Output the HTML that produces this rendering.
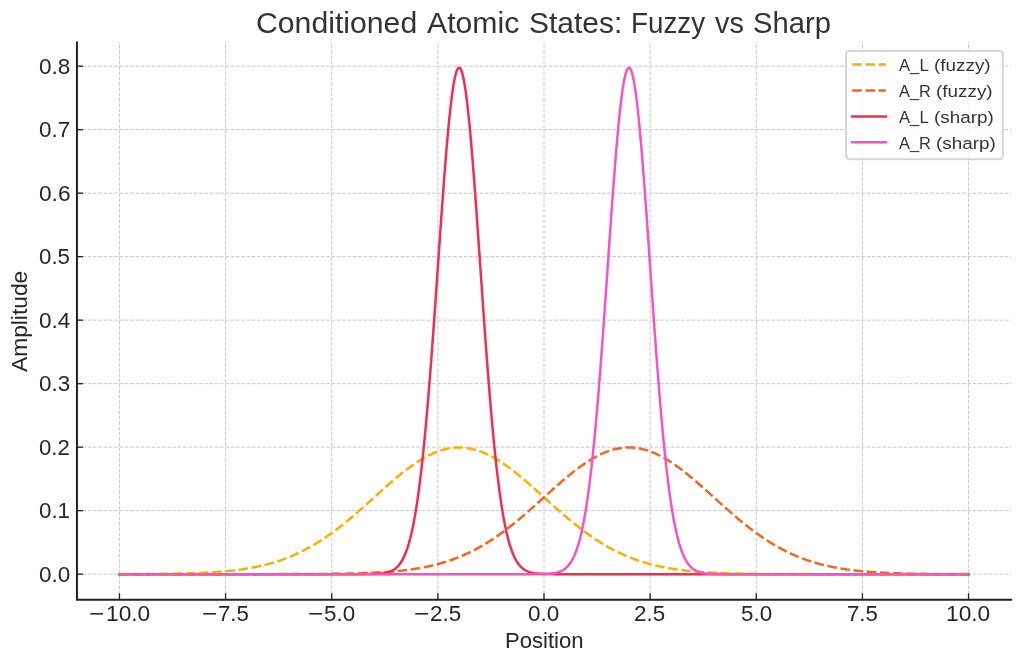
<!DOCTYPE html>
<html lang="en">
<head>
<meta charset="utf-8">
<title>Conditioned Atomic States: Fuzzy vs Sharp</title>
<style>
html,body{margin:0;padding:0;background:#ffffff;}
body{width:1023px;height:664px;overflow:hidden;position:relative;font-family:"Liberation Sans",sans-serif;}
.chart{position:absolute;left:0;top:0;width:1023px;height:664px;background:#ffffff;overflow:hidden;}
.plot{position:absolute;left:0;top:0;display:block;}
.labels{position:absolute;left:0;top:0;width:1023px;height:664px;will-change:transform;}
.t{position:absolute;left:0;width:1023px;height:0;white-space:pre;line-height:1;margin:0;padding:0;font-weight:normal;font-family:"Liberation Sans",sans-serif;}
.t span{position:absolute;top:0;white-space:pre;line-height:1;transform-origin:0 0;}
</style>
</head>
<body>
<div class="chart">
<svg class="plot" width="1023" height="664" viewBox="0 0 1023 664">
<g class="grid" stroke="#c8c8c8" stroke-width="1" stroke-dasharray="3.7 1.6" fill="none">
<path d="M119.45,599.8 V42.0"/>
<path d="M225.59,599.8 V42.0"/>
<path d="M331.73,599.8 V42.0"/>
<path d="M437.86,599.8 V42.0"/>
<path d="M544.00,599.8 V42.0"/>
<path d="M650.14,599.8 V42.0"/>
<path d="M756.27,599.8 V42.0"/>
<path d="M862.41,599.8 V42.0"/>
<path d="M968.55,599.8 V42.0"/>
<path d="M77.0,574.15 H1011.0"/>
<path d="M77.0,510.65 H1011.0"/>
<path d="M77.0,447.15 H1011.0"/>
<path d="M77.0,383.65 H1011.0"/>
<path d="M77.0,320.15 H1011.0"/>
<path d="M77.0,256.65 H1011.0"/>
<path d="M77.0,193.15 H1011.0"/>
<path d="M77.0,129.65 H1011.0"/>
<path d="M77.0,66.15 H1011.0"/>
</g>
<g class="curves" fill="none" stroke-width="2.5" stroke-linejoin="round">
<path d="M119.45,574.11 L120.87,574.10 L122.29,574.10 L123.70,574.10 L125.12,574.09 L126.54,574.09 L127.96,574.09 L129.37,574.08 L130.79,574.08 L132.21,574.07 L133.63,574.07 L135.04,574.06 L136.46,574.06 L137.88,574.05 L139.30,574.04 L140.71,574.04 L142.13,574.03 L143.55,574.02 L144.97,574.01 L146.38,574.01 L147.80,574.00 L149.22,573.99 L150.64,573.98 L152.05,573.97 L153.47,573.96 L154.89,573.94 L156.31,573.93 L157.72,573.92 L159.14,573.90 L160.56,573.89 L161.98,573.87 L163.39,573.86 L164.81,573.84 L166.23,573.82 L167.65,573.80 L169.06,573.78 L170.48,573.76 L171.90,573.73 L173.32,573.71 L174.73,573.69 L176.15,573.66 L177.57,573.63 L178.99,573.60 L180.40,573.57 L181.82,573.54 L183.24,573.50 L184.66,573.47 L186.07,573.43 L187.49,573.39 L188.91,573.35 L190.33,573.30 L191.74,573.26 L193.16,573.21 L194.58,573.16 L196.00,573.11 L197.41,573.05 L198.83,573.00 L200.25,572.93 L201.67,572.87 L203.08,572.81 L204.50,572.74 L205.92,572.66 L207.34,572.59 L208.75,572.51 L210.17,572.43 L211.59,572.34 L213.01,572.25 L214.42,572.16 L215.84,572.06 L217.26,571.96 L218.68,571.85 L220.09,571.74 L221.51,571.62 L222.93,571.50 L224.35,571.38 L225.76,571.25 L227.18,571.11 L228.60,570.97 L230.02,570.82 L231.43,570.67 L232.85,570.51 L234.27,570.35 L235.69,570.17 L237.10,570.00 L238.52,569.81 L239.94,569.62 L241.36,569.42 L242.78,569.21 L244.19,569.00 L245.61,568.78 L247.03,568.55 L248.45,568.31 L249.86,568.07 L251.28,567.81 L252.70,567.55 L254.12,567.28 L255.53,566.99 L256.95,566.70 L258.37,566.40 L259.79,566.09 L261.20,565.77 L262.62,565.44 L264.04,565.10 L265.46,564.74 L266.87,564.38 L268.29,564.01 L269.71,563.62 L271.13,563.22 L272.54,562.81 L273.96,562.39 L275.38,561.96 L276.80,561.51 L278.21,561.05 L279.63,560.58 L281.05,560.09 L282.47,559.59 L283.88,559.08 L285.30,558.55 L286.72,558.02 L288.14,557.46 L289.55,556.89 L290.97,556.31 L292.39,555.71 L293.81,555.10 L295.22,554.48 L296.64,553.83 L298.06,553.18 L299.48,552.51 L300.89,551.82 L302.31,551.12 L303.73,550.40 L305.15,549.67 L306.56,548.92 L307.98,548.15 L309.40,547.37 L310.82,546.58 L312.23,545.76 L313.65,544.94 L315.07,544.09 L316.49,543.24 L317.90,542.36 L319.32,541.47 L320.74,540.56 L322.16,539.64 L323.57,538.71 L324.99,537.75 L326.41,536.79 L327.83,535.81 L329.24,534.81 L330.66,533.80 L332.08,532.77 L333.50,531.73 L334.91,530.68 L336.33,529.61 L337.75,528.53 L339.17,527.43 L340.58,526.32 L342.00,525.20 L343.42,524.07 L344.84,522.92 L346.25,521.77 L347.67,520.60 L349.09,519.42 L350.51,518.23 L351.92,517.03 L353.34,515.83 L354.76,514.61 L356.18,513.38 L357.59,512.15 L359.01,510.91 L360.43,509.66 L361.85,508.41 L363.27,507.15 L364.68,505.88 L366.10,504.61 L367.52,503.34 L368.94,502.06 L370.35,500.78 L371.77,499.50 L373.19,498.22 L374.61,496.94 L376.02,495.66 L377.44,494.38 L378.86,493.10 L380.28,491.82 L381.69,490.54 L383.11,489.27 L384.53,488.01 L385.95,486.75 L387.36,485.50 L388.78,484.25 L390.20,483.01 L391.62,481.78 L393.03,480.56 L394.45,479.35 L395.87,478.15 L397.29,476.96 L398.70,475.79 L400.12,474.63 L401.54,473.48 L402.96,472.35 L404.37,471.23 L405.79,470.14 L407.21,469.05 L408.63,467.99 L410.04,466.95 L411.46,465.92 L412.88,464.92 L414.30,463.94 L415.71,462.98 L417.13,462.04 L418.55,461.13 L419.97,460.24 L421.38,459.38 L422.80,458.54 L424.22,457.73 L425.64,456.94 L427.05,456.19 L428.47,455.46 L429.89,454.76 L431.31,454.09 L432.72,453.45 L434.14,452.84 L435.56,452.26 L436.98,451.71 L438.39,451.19 L439.81,450.71 L441.23,450.26 L442.65,449.84 L444.06,449.45 L445.48,449.10 L446.90,448.78 L448.32,448.50 L449.73,448.25 L451.15,448.04 L452.57,447.86 L453.99,447.71 L455.40,447.61 L456.82,447.53 L458.24,447.49 L459.66,447.49 L461.07,447.52 L462.49,447.59 L463.91,447.69 L465.33,447.83 L466.74,448.00 L468.16,448.21 L469.58,448.45 L471.00,448.73 L472.41,449.04 L473.83,449.38 L475.25,449.76 L476.67,450.17 L478.08,450.62 L479.50,451.09 L480.92,451.60 L482.34,452.15 L483.76,452.72 L485.17,453.32 L486.59,453.96 L488.01,454.62 L489.43,455.32 L490.84,456.04 L492.26,456.79 L493.68,457.57 L495.10,458.38 L496.51,459.21 L497.93,460.07 L499.35,460.95 L500.77,461.86 L502.18,462.79 L503.60,463.75 L505.02,464.72 L506.44,465.72 L507.85,466.74 L509.27,467.78 L510.69,468.84 L512.11,469.92 L513.52,471.01 L514.94,472.13 L516.36,473.25 L517.78,474.40 L519.19,475.56 L520.61,476.73 L522.03,477.91 L523.45,479.11 L524.86,480.32 L526.28,481.54 L527.70,482.76 L529.12,484.00 L530.53,485.25 L531.95,486.50 L533.37,487.76 L534.79,489.02 L536.20,490.29 L537.62,491.56 L539.04,492.84 L540.46,494.12 L541.87,495.40 L543.29,496.68 L544.71,497.97 L546.13,499.25 L547.54,500.53 L548.96,501.81 L550.38,503.09 L551.80,504.36 L553.21,505.63 L554.63,506.89 L556.05,508.16 L557.47,509.41 L558.88,510.66 L560.30,511.90 L561.72,513.14 L563.14,514.36 L564.55,515.58 L565.97,516.79 L567.39,517.99 L568.81,519.18 L570.22,520.36 L571.64,521.53 L573.06,522.69 L574.48,523.84 L575.89,524.98 L577.31,526.10 L578.73,527.21 L580.15,528.31 L581.56,529.39 L582.98,530.46 L584.40,531.52 L585.82,532.56 L587.23,533.59 L588.65,534.61 L590.07,535.61 L591.49,536.59 L592.90,537.56 L594.32,538.52 L595.74,539.46 L597.16,540.38 L598.57,541.29 L599.99,542.18 L601.41,543.06 L602.83,543.92 L604.24,544.77 L605.66,545.60 L607.08,546.42 L608.50,547.21 L609.92,548.00 L611.33,548.77 L612.75,549.52 L614.17,550.25 L615.59,550.97 L617.00,551.68 L618.42,552.37 L619.84,553.04 L621.26,553.70 L622.67,554.35 L624.09,554.98 L625.51,555.59 L626.93,556.19 L628.34,556.78 L629.76,557.35 L631.18,557.91 L632.60,558.45 L634.01,558.98 L635.43,559.49 L636.85,559.99 L638.27,560.48 L639.68,560.96 L641.10,561.42 L642.52,561.87 L643.94,562.30 L645.35,562.73 L646.77,563.14 L648.19,563.54 L649.61,563.93 L651.02,564.31 L652.44,564.67 L653.86,565.03 L655.28,565.37 L656.69,565.70 L658.11,566.03 L659.53,566.34 L660.95,566.64 L662.36,566.94 L663.78,567.22 L665.20,567.49 L666.62,567.76 L668.03,568.02 L669.45,568.26 L670.87,568.50 L672.29,568.73 L673.70,568.96 L675.12,569.17 L676.54,569.38 L677.96,569.58 L679.37,569.77 L680.79,569.96 L682.21,570.14 L683.63,570.31 L685.04,570.48 L686.46,570.64 L687.88,570.79 L689.30,570.94 L690.71,571.08 L692.13,571.22 L693.55,571.35 L694.97,571.48 L696.38,571.60 L697.80,571.72 L699.22,571.83 L700.64,571.93 L702.05,572.04 L703.47,572.14 L704.89,572.23 L706.31,572.32 L707.72,572.41 L709.14,572.49 L710.56,572.57 L711.98,572.65 L713.39,572.72 L714.81,572.79 L716.23,572.86 L717.65,572.92 L719.06,572.98 L720.48,573.04 L721.90,573.10 L723.32,573.15 L724.73,573.20 L726.15,573.25 L727.57,573.30 L728.99,573.34 L730.41,573.38 L731.82,573.42 L733.24,573.46 L734.66,573.50 L736.08,573.53 L737.49,573.56 L738.91,573.59 L740.33,573.62 L741.75,573.65 L743.16,573.68 L744.58,573.71 L746.00,573.73 L747.42,573.75 L748.83,573.77 L750.25,573.80 L751.67,573.82 L753.09,573.83 L754.50,573.85 L755.92,573.87 L757.34,573.88 L758.76,573.90 L760.17,573.91 L761.59,573.93 L763.01,573.94 L764.43,573.95 L765.84,573.96 L767.26,573.98 L768.68,573.99 L770.10,574.00 L771.51,574.00 L772.93,574.01 L774.35,574.02 L775.77,574.03 L777.18,574.04 L778.60,574.04 L780.02,574.05 L781.44,574.06 L782.85,574.06 L784.27,574.07 L785.69,574.07 L787.11,574.08 L788.52,574.08 L789.94,574.09 L791.36,574.09 L792.78,574.09 L794.19,574.10 L795.61,574.10 L797.03,574.10 L798.45,574.11 L799.86,574.11 L801.28,574.11 L802.70,574.11 L804.12,574.12 L805.53,574.12 L806.95,574.12 L808.37,574.12 L809.79,574.12 L811.20,574.13 L812.62,574.13 L814.04,574.13 L815.46,574.13 L816.87,574.13 L818.29,574.13 L819.71,574.13 L821.13,574.14 L822.54,574.14 L823.96,574.14 L825.38,574.14 L826.80,574.14 L828.21,574.14 L829.63,574.14 L831.05,574.14 L832.47,574.14 L833.88,574.14 L835.30,574.14 L836.72,574.14 L838.14,574.14 L839.55,574.14 L840.97,574.14 L842.39,574.15 L843.81,574.15 L845.22,574.15 L846.64,574.15 L848.06,574.15 L849.48,574.15 L850.90,574.15 L852.31,574.15 L853.73,574.15 L855.15,574.15 L856.57,574.15 L857.98,574.15 L859.40,574.15 L860.82,574.15 L862.24,574.15 L863.65,574.15 L865.07,574.15 L866.49,574.15 L867.91,574.15 L869.32,574.15 L870.74,574.15 L872.16,574.15 L873.58,574.15 L874.99,574.15 L876.41,574.15 L877.83,574.15 L879.25,574.15 L880.66,574.15 L882.08,574.15 L883.50,574.15 L884.92,574.15 L886.33,574.15 L887.75,574.15 L889.17,574.15 L890.59,574.15 L892.00,574.15 L893.42,574.15 L894.84,574.15 L896.26,574.15 L897.67,574.15 L899.09,574.15 L900.51,574.15 L901.93,574.15 L903.34,574.15 L904.76,574.15 L906.18,574.15 L907.60,574.15 L909.01,574.15 L910.43,574.15 L911.85,574.15 L913.27,574.15 L914.68,574.15 L916.10,574.15 L917.52,574.15 L918.94,574.15 L920.35,574.15 L921.77,574.15 L923.19,574.15 L924.61,574.15 L926.02,574.15 L927.44,574.15 L928.86,574.15 L930.28,574.15 L931.69,574.15 L933.11,574.15 L934.53,574.15 L935.95,574.15 L937.36,574.15 L938.78,574.15 L940.20,574.15 L941.62,574.15 L943.03,574.15 L944.45,574.15 L945.87,574.15 L947.29,574.15 L948.70,574.15 L950.12,574.15 L951.54,574.15 L952.96,574.15 L954.37,574.15 L955.79,574.15 L957.21,574.15 L958.63,574.15 L960.04,574.15 L961.46,574.15 L962.88,574.15 L964.30,574.15 L965.71,574.15 L967.13,574.15 L968.55,574.15" stroke="#FFAE00" stroke-dasharray="9.6 3.65"/>
<path d="M119.45,574.15 L120.87,574.15 L122.29,574.15 L123.70,574.15 L125.12,574.15 L126.54,574.15 L127.96,574.15 L129.37,574.15 L130.79,574.15 L132.21,574.15 L133.63,574.15 L135.04,574.15 L136.46,574.15 L137.88,574.15 L139.30,574.15 L140.71,574.15 L142.13,574.15 L143.55,574.15 L144.97,574.15 L146.38,574.15 L147.80,574.15 L149.22,574.15 L150.64,574.15 L152.05,574.15 L153.47,574.15 L154.89,574.15 L156.31,574.15 L157.72,574.15 L159.14,574.15 L160.56,574.15 L161.98,574.15 L163.39,574.15 L164.81,574.15 L166.23,574.15 L167.65,574.15 L169.06,574.15 L170.48,574.15 L171.90,574.15 L173.32,574.15 L174.73,574.15 L176.15,574.15 L177.57,574.15 L178.99,574.15 L180.40,574.15 L181.82,574.15 L183.24,574.15 L184.66,574.15 L186.07,574.15 L187.49,574.15 L188.91,574.15 L190.33,574.15 L191.74,574.15 L193.16,574.15 L194.58,574.15 L196.00,574.15 L197.41,574.15 L198.83,574.15 L200.25,574.15 L201.67,574.15 L203.08,574.15 L204.50,574.15 L205.92,574.15 L207.34,574.15 L208.75,574.15 L210.17,574.15 L211.59,574.15 L213.01,574.15 L214.42,574.15 L215.84,574.15 L217.26,574.15 L218.68,574.15 L220.09,574.15 L221.51,574.15 L222.93,574.15 L224.35,574.15 L225.76,574.15 L227.18,574.15 L228.60,574.15 L230.02,574.15 L231.43,574.15 L232.85,574.15 L234.27,574.15 L235.69,574.15 L237.10,574.15 L238.52,574.15 L239.94,574.15 L241.36,574.15 L242.78,574.15 L244.19,574.15 L245.61,574.15 L247.03,574.14 L248.45,574.14 L249.86,574.14 L251.28,574.14 L252.70,574.14 L254.12,574.14 L255.53,574.14 L256.95,574.14 L258.37,574.14 L259.79,574.14 L261.20,574.14 L262.62,574.14 L264.04,574.14 L265.46,574.14 L266.87,574.14 L268.29,574.13 L269.71,574.13 L271.13,574.13 L272.54,574.13 L273.96,574.13 L275.38,574.13 L276.80,574.13 L278.21,574.12 L279.63,574.12 L281.05,574.12 L282.47,574.12 L283.88,574.12 L285.30,574.11 L286.72,574.11 L288.14,574.11 L289.55,574.11 L290.97,574.10 L292.39,574.10 L293.81,574.10 L295.22,574.09 L296.64,574.09 L298.06,574.09 L299.48,574.08 L300.89,574.08 L302.31,574.07 L303.73,574.07 L305.15,574.06 L306.56,574.06 L307.98,574.05 L309.40,574.04 L310.82,574.04 L312.23,574.03 L313.65,574.02 L315.07,574.01 L316.49,574.00 L317.90,574.00 L319.32,573.99 L320.74,573.98 L322.16,573.96 L323.57,573.95 L324.99,573.94 L326.41,573.93 L327.83,573.91 L329.24,573.90 L330.66,573.88 L332.08,573.87 L333.50,573.85 L334.91,573.83 L336.33,573.82 L337.75,573.80 L339.17,573.77 L340.58,573.75 L342.00,573.73 L343.42,573.71 L344.84,573.68 L346.25,573.65 L347.67,573.62 L349.09,573.59 L350.51,573.56 L351.92,573.53 L353.34,573.50 L354.76,573.46 L356.18,573.42 L357.59,573.38 L359.01,573.34 L360.43,573.30 L361.85,573.25 L363.27,573.20 L364.68,573.15 L366.10,573.10 L367.52,573.04 L368.94,572.98 L370.35,572.92 L371.77,572.86 L373.19,572.79 L374.61,572.72 L376.02,572.65 L377.44,572.57 L378.86,572.49 L380.28,572.41 L381.69,572.32 L383.11,572.23 L384.53,572.14 L385.95,572.04 L387.36,571.93 L388.78,571.83 L390.20,571.72 L391.62,571.60 L393.03,571.48 L394.45,571.35 L395.87,571.22 L397.29,571.08 L398.70,570.94 L400.12,570.79 L401.54,570.64 L402.96,570.48 L404.37,570.31 L405.79,570.14 L407.21,569.96 L408.63,569.77 L410.04,569.58 L411.46,569.38 L412.88,569.17 L414.30,568.96 L415.71,568.73 L417.13,568.50 L418.55,568.26 L419.97,568.02 L421.38,567.76 L422.80,567.49 L424.22,567.22 L425.64,566.94 L427.05,566.64 L428.47,566.34 L429.89,566.03 L431.31,565.70 L432.72,565.37 L434.14,565.03 L435.56,564.67 L436.98,564.31 L438.39,563.93 L439.81,563.54 L441.23,563.14 L442.65,562.73 L444.06,562.30 L445.48,561.87 L446.90,561.42 L448.32,560.96 L449.73,560.48 L451.15,559.99 L452.57,559.49 L453.99,558.98 L455.40,558.45 L456.82,557.91 L458.24,557.35 L459.66,556.78 L461.07,556.19 L462.49,555.59 L463.91,554.98 L465.33,554.35 L466.74,553.70 L468.16,553.04 L469.58,552.37 L471.00,551.68 L472.41,550.97 L473.83,550.25 L475.25,549.52 L476.67,548.77 L478.08,548.00 L479.50,547.21 L480.92,546.42 L482.34,545.60 L483.76,544.77 L485.17,543.92 L486.59,543.06 L488.01,542.18 L489.43,541.29 L490.84,540.38 L492.26,539.46 L493.68,538.52 L495.10,537.56 L496.51,536.59 L497.93,535.61 L499.35,534.61 L500.77,533.59 L502.18,532.56 L503.60,531.52 L505.02,530.46 L506.44,529.39 L507.85,528.31 L509.27,527.21 L510.69,526.10 L512.11,524.98 L513.52,523.84 L514.94,522.69 L516.36,521.53 L517.78,520.36 L519.19,519.18 L520.61,517.99 L522.03,516.79 L523.45,515.58 L524.86,514.36 L526.28,513.14 L527.70,511.90 L529.12,510.66 L530.53,509.41 L531.95,508.16 L533.37,506.89 L534.79,505.63 L536.20,504.36 L537.62,503.09 L539.04,501.81 L540.46,500.53 L541.87,499.25 L543.29,497.97 L544.71,496.68 L546.13,495.40 L547.54,494.12 L548.96,492.84 L550.38,491.56 L551.80,490.29 L553.21,489.02 L554.63,487.76 L556.05,486.50 L557.47,485.25 L558.88,484.00 L560.30,482.76 L561.72,481.54 L563.14,480.32 L564.55,479.11 L565.97,477.91 L567.39,476.73 L568.81,475.56 L570.22,474.40 L571.64,473.25 L573.06,472.13 L574.48,471.01 L575.89,469.92 L577.31,468.84 L578.73,467.78 L580.15,466.74 L581.56,465.72 L582.98,464.72 L584.40,463.75 L585.82,462.79 L587.23,461.86 L588.65,460.95 L590.07,460.07 L591.49,459.21 L592.90,458.38 L594.32,457.57 L595.74,456.79 L597.16,456.04 L598.57,455.32 L599.99,454.62 L601.41,453.96 L602.83,453.32 L604.24,452.72 L605.66,452.15 L607.08,451.60 L608.50,451.09 L609.92,450.62 L611.33,450.17 L612.75,449.76 L614.17,449.38 L615.59,449.04 L617.00,448.73 L618.42,448.45 L619.84,448.21 L621.26,448.00 L622.67,447.83 L624.09,447.69 L625.51,447.59 L626.93,447.52 L628.34,447.49 L629.76,447.49 L631.18,447.53 L632.60,447.61 L634.01,447.71 L635.43,447.86 L636.85,448.04 L638.27,448.25 L639.68,448.50 L641.10,448.78 L642.52,449.10 L643.94,449.45 L645.35,449.84 L646.77,450.26 L648.19,450.71 L649.61,451.19 L651.02,451.71 L652.44,452.26 L653.86,452.84 L655.28,453.45 L656.69,454.09 L658.11,454.76 L659.53,455.46 L660.95,456.19 L662.36,456.94 L663.78,457.73 L665.20,458.54 L666.62,459.38 L668.03,460.24 L669.45,461.13 L670.87,462.04 L672.29,462.98 L673.70,463.94 L675.12,464.92 L676.54,465.92 L677.96,466.95 L679.37,467.99 L680.79,469.05 L682.21,470.14 L683.63,471.23 L685.04,472.35 L686.46,473.48 L687.88,474.63 L689.30,475.79 L690.71,476.96 L692.13,478.15 L693.55,479.35 L694.97,480.56 L696.38,481.78 L697.80,483.01 L699.22,484.25 L700.64,485.50 L702.05,486.75 L703.47,488.01 L704.89,489.27 L706.31,490.54 L707.72,491.82 L709.14,493.10 L710.56,494.38 L711.98,495.66 L713.39,496.94 L714.81,498.22 L716.23,499.50 L717.65,500.78 L719.06,502.06 L720.48,503.34 L721.90,504.61 L723.32,505.88 L724.73,507.15 L726.15,508.41 L727.57,509.66 L728.99,510.91 L730.41,512.15 L731.82,513.38 L733.24,514.61 L734.66,515.83 L736.08,517.03 L737.49,518.23 L738.91,519.42 L740.33,520.60 L741.75,521.77 L743.16,522.92 L744.58,524.07 L746.00,525.20 L747.42,526.32 L748.83,527.43 L750.25,528.53 L751.67,529.61 L753.09,530.68 L754.50,531.73 L755.92,532.77 L757.34,533.80 L758.76,534.81 L760.17,535.81 L761.59,536.79 L763.01,537.75 L764.43,538.71 L765.84,539.64 L767.26,540.56 L768.68,541.47 L770.10,542.36 L771.51,543.24 L772.93,544.09 L774.35,544.94 L775.77,545.76 L777.18,546.58 L778.60,547.37 L780.02,548.15 L781.44,548.92 L782.85,549.67 L784.27,550.40 L785.69,551.12 L787.11,551.82 L788.52,552.51 L789.94,553.18 L791.36,553.83 L792.78,554.48 L794.19,555.10 L795.61,555.71 L797.03,556.31 L798.45,556.89 L799.86,557.46 L801.28,558.02 L802.70,558.55 L804.12,559.08 L805.53,559.59 L806.95,560.09 L808.37,560.58 L809.79,561.05 L811.20,561.51 L812.62,561.96 L814.04,562.39 L815.46,562.81 L816.87,563.22 L818.29,563.62 L819.71,564.01 L821.13,564.38 L822.54,564.74 L823.96,565.10 L825.38,565.44 L826.80,565.77 L828.21,566.09 L829.63,566.40 L831.05,566.70 L832.47,566.99 L833.88,567.28 L835.30,567.55 L836.72,567.81 L838.14,568.07 L839.55,568.31 L840.97,568.55 L842.39,568.78 L843.81,569.00 L845.22,569.21 L846.64,569.42 L848.06,569.62 L849.48,569.81 L850.90,570.00 L852.31,570.17 L853.73,570.35 L855.15,570.51 L856.57,570.67 L857.98,570.82 L859.40,570.97 L860.82,571.11 L862.24,571.25 L863.65,571.38 L865.07,571.50 L866.49,571.62 L867.91,571.74 L869.32,571.85 L870.74,571.96 L872.16,572.06 L873.58,572.16 L874.99,572.25 L876.41,572.34 L877.83,572.43 L879.25,572.51 L880.66,572.59 L882.08,572.66 L883.50,572.74 L884.92,572.81 L886.33,572.87 L887.75,572.93 L889.17,573.00 L890.59,573.05 L892.00,573.11 L893.42,573.16 L894.84,573.21 L896.26,573.26 L897.67,573.30 L899.09,573.35 L900.51,573.39 L901.93,573.43 L903.34,573.47 L904.76,573.50 L906.18,573.54 L907.60,573.57 L909.01,573.60 L910.43,573.63 L911.85,573.66 L913.27,573.69 L914.68,573.71 L916.10,573.73 L917.52,573.76 L918.94,573.78 L920.35,573.80 L921.77,573.82 L923.19,573.84 L924.61,573.86 L926.02,573.87 L927.44,573.89 L928.86,573.90 L930.28,573.92 L931.69,573.93 L933.11,573.94 L934.53,573.96 L935.95,573.97 L937.36,573.98 L938.78,573.99 L940.20,574.00 L941.62,574.01 L943.03,574.01 L944.45,574.02 L945.87,574.03 L947.29,574.04 L948.70,574.04 L950.12,574.05 L951.54,574.06 L952.96,574.06 L954.37,574.07 L955.79,574.07 L957.21,574.08 L958.63,574.08 L960.04,574.09 L961.46,574.09 L962.88,574.09 L964.30,574.10 L965.71,574.10 L967.13,574.10 L968.55,574.11" stroke="#F3661B" stroke-dasharray="9.6 3.65"/>
<path d="M119.45,574.15 L120.87,574.15 L122.29,574.15 L123.70,574.15 L125.12,574.15 L126.54,574.15 L127.96,574.15 L129.37,574.15 L130.79,574.15 L132.21,574.15 L133.63,574.15 L135.04,574.15 L136.46,574.15 L137.88,574.15 L139.30,574.15 L140.71,574.15 L142.13,574.15 L143.55,574.15 L144.97,574.15 L146.38,574.15 L147.80,574.15 L149.22,574.15 L150.64,574.15 L152.05,574.15 L153.47,574.15 L154.89,574.15 L156.31,574.15 L157.72,574.15 L159.14,574.15 L160.56,574.15 L161.98,574.15 L163.39,574.15 L164.81,574.15 L166.23,574.15 L167.65,574.15 L169.06,574.15 L170.48,574.15 L171.90,574.15 L173.32,574.15 L174.73,574.15 L176.15,574.15 L177.57,574.15 L178.99,574.15 L180.40,574.15 L181.82,574.15 L183.24,574.15 L184.66,574.15 L186.07,574.15 L187.49,574.15 L188.91,574.15 L190.33,574.15 L191.74,574.15 L193.16,574.15 L194.58,574.15 L196.00,574.15 L197.41,574.15 L198.83,574.15 L200.25,574.15 L201.67,574.15 L203.08,574.15 L204.50,574.15 L205.92,574.15 L207.34,574.15 L208.75,574.15 L210.17,574.15 L211.59,574.15 L213.01,574.15 L214.42,574.15 L215.84,574.15 L217.26,574.15 L218.68,574.15 L220.09,574.15 L221.51,574.15 L222.93,574.15 L224.35,574.15 L225.76,574.15 L227.18,574.15 L228.60,574.15 L230.02,574.15 L231.43,574.15 L232.85,574.15 L234.27,574.15 L235.69,574.15 L237.10,574.15 L238.52,574.15 L239.94,574.15 L241.36,574.15 L242.78,574.15 L244.19,574.15 L245.61,574.15 L247.03,574.15 L248.45,574.15 L249.86,574.15 L251.28,574.15 L252.70,574.15 L254.12,574.15 L255.53,574.15 L256.95,574.15 L258.37,574.15 L259.79,574.15 L261.20,574.15 L262.62,574.15 L264.04,574.15 L265.46,574.15 L266.87,574.15 L268.29,574.15 L269.71,574.15 L271.13,574.15 L272.54,574.15 L273.96,574.15 L275.38,574.15 L276.80,574.15 L278.21,574.15 L279.63,574.15 L281.05,574.15 L282.47,574.15 L283.88,574.15 L285.30,574.15 L286.72,574.15 L288.14,574.15 L289.55,574.15 L290.97,574.15 L292.39,574.15 L293.81,574.15 L295.22,574.15 L296.64,574.15 L298.06,574.15 L299.48,574.15 L300.89,574.15 L302.31,574.15 L303.73,574.15 L305.15,574.15 L306.56,574.15 L307.98,574.15 L309.40,574.15 L310.82,574.15 L312.23,574.15 L313.65,574.15 L315.07,574.15 L316.49,574.15 L317.90,574.15 L319.32,574.15 L320.74,574.15 L322.16,574.15 L323.57,574.15 L324.99,574.15 L326.41,574.15 L327.83,574.15 L329.24,574.15 L330.66,574.15 L332.08,574.15 L333.50,574.15 L334.91,574.15 L336.33,574.15 L337.75,574.15 L339.17,574.15 L340.58,574.15 L342.00,574.15 L343.42,574.15 L344.84,574.15 L346.25,574.15 L347.67,574.15 L349.09,574.15 L350.51,574.15 L351.92,574.15 L353.34,574.15 L354.76,574.15 L356.18,574.15 L357.59,574.14 L359.01,574.14 L360.43,574.14 L361.85,574.14 L363.27,574.13 L364.68,574.12 L366.10,574.12 L367.52,574.10 L368.94,574.09 L370.35,574.07 L371.77,574.04 L373.19,574.01 L374.61,573.97 L376.02,573.91 L377.44,573.84 L378.86,573.75 L380.28,573.64 L381.69,573.49 L383.11,573.31 L384.53,573.09 L385.95,572.81 L387.36,572.47 L388.78,572.05 L390.20,571.53 L391.62,570.91 L393.03,570.15 L394.45,569.24 L395.87,568.14 L397.29,566.84 L398.70,565.29 L400.12,563.46 L401.54,561.31 L402.96,558.80 L404.37,555.87 L405.79,552.49 L407.21,548.59 L408.63,544.12 L410.04,539.04 L411.46,533.27 L412.88,526.77 L414.30,519.48 L415.71,511.34 L417.13,502.32 L418.55,492.37 L419.97,481.45 L421.38,469.54 L422.80,456.63 L424.22,442.71 L425.64,427.80 L427.05,411.92 L428.47,395.12 L429.89,377.45 L431.31,359.01 L432.72,339.88 L434.14,320.19 L435.56,300.07 L436.98,279.67 L438.39,259.15 L439.81,238.71 L441.23,218.53 L442.65,198.82 L444.06,179.77 L445.48,161.60 L446.90,144.52 L448.32,128.72 L449.73,114.39 L451.15,101.71 L452.57,90.84 L453.99,81.92 L455.40,75.07 L456.82,70.38 L458.24,67.90 L459.66,67.67 L461.07,69.70 L462.49,73.96 L463.91,80.39 L465.33,88.90 L466.74,99.39 L468.16,111.71 L469.58,125.73 L471.00,141.25 L472.41,158.09 L473.83,176.06 L475.25,194.95 L476.67,214.55 L478.08,234.65 L479.50,255.05 L480.92,275.57 L482.34,296.00 L483.76,316.19 L485.17,335.98 L486.59,355.24 L488.01,373.82 L489.43,391.65 L490.84,408.63 L492.26,424.70 L493.68,439.81 L495.10,453.93 L496.51,467.04 L497.93,479.15 L499.35,490.26 L500.77,500.40 L502.18,509.61 L503.60,517.92 L505.02,525.37 L506.44,532.03 L507.85,537.94 L509.27,543.16 L510.69,547.74 L512.11,551.75 L513.52,555.23 L514.94,558.25 L516.36,560.84 L517.78,563.06 L519.19,564.95 L520.61,566.55 L522.03,567.90 L523.45,569.04 L524.86,569.98 L526.28,570.77 L527.70,571.42 L529.12,571.95 L530.53,572.39 L531.95,572.75 L533.37,573.04 L534.79,573.27 L536.20,573.46 L537.62,573.61 L539.04,573.73 L540.46,573.82 L541.87,573.90 L543.29,573.96 L544.71,574.00 L546.13,574.04 L547.54,574.06 L548.96,574.09 L550.38,574.10 L551.80,574.11 L553.21,574.12 L554.63,574.13 L556.05,574.14 L557.47,574.14 L558.88,574.14 L560.30,574.14 L561.72,574.15 L563.14,574.15 L564.55,574.15 L565.97,574.15 L567.39,574.15 L568.81,574.15 L570.22,574.15 L571.64,574.15 L573.06,574.15 L574.48,574.15 L575.89,574.15 L577.31,574.15 L578.73,574.15 L580.15,574.15 L581.56,574.15 L582.98,574.15 L584.40,574.15 L585.82,574.15 L587.23,574.15 L588.65,574.15 L590.07,574.15 L591.49,574.15 L592.90,574.15 L594.32,574.15 L595.74,574.15 L597.16,574.15 L598.57,574.15 L599.99,574.15 L601.41,574.15 L602.83,574.15 L604.24,574.15 L605.66,574.15 L607.08,574.15 L608.50,574.15 L609.92,574.15 L611.33,574.15 L612.75,574.15 L614.17,574.15 L615.59,574.15 L617.00,574.15 L618.42,574.15 L619.84,574.15 L621.26,574.15 L622.67,574.15 L624.09,574.15 L625.51,574.15 L626.93,574.15 L628.34,574.15 L629.76,574.15 L631.18,574.15 L632.60,574.15 L634.01,574.15 L635.43,574.15 L636.85,574.15 L638.27,574.15 L639.68,574.15 L641.10,574.15 L642.52,574.15 L643.94,574.15 L645.35,574.15 L646.77,574.15 L648.19,574.15 L649.61,574.15 L651.02,574.15 L652.44,574.15 L653.86,574.15 L655.28,574.15 L656.69,574.15 L658.11,574.15 L659.53,574.15 L660.95,574.15 L662.36,574.15 L663.78,574.15 L665.20,574.15 L666.62,574.15 L668.03,574.15 L669.45,574.15 L670.87,574.15 L672.29,574.15 L673.70,574.15 L675.12,574.15 L676.54,574.15 L677.96,574.15 L679.37,574.15 L680.79,574.15 L682.21,574.15 L683.63,574.15 L685.04,574.15 L686.46,574.15 L687.88,574.15 L689.30,574.15 L690.71,574.15 L692.13,574.15 L693.55,574.15 L694.97,574.15 L696.38,574.15 L697.80,574.15 L699.22,574.15 L700.64,574.15 L702.05,574.15 L703.47,574.15 L704.89,574.15 L706.31,574.15 L707.72,574.15 L709.14,574.15 L710.56,574.15 L711.98,574.15 L713.39,574.15 L714.81,574.15 L716.23,574.15 L717.65,574.15 L719.06,574.15 L720.48,574.15 L721.90,574.15 L723.32,574.15 L724.73,574.15 L726.15,574.15 L727.57,574.15 L728.99,574.15 L730.41,574.15 L731.82,574.15 L733.24,574.15 L734.66,574.15 L736.08,574.15 L737.49,574.15 L738.91,574.15 L740.33,574.15 L741.75,574.15 L743.16,574.15 L744.58,574.15 L746.00,574.15 L747.42,574.15 L748.83,574.15 L750.25,574.15 L751.67,574.15 L753.09,574.15 L754.50,574.15 L755.92,574.15 L757.34,574.15 L758.76,574.15 L760.17,574.15 L761.59,574.15 L763.01,574.15 L764.43,574.15 L765.84,574.15 L767.26,574.15 L768.68,574.15 L770.10,574.15 L771.51,574.15 L772.93,574.15 L774.35,574.15 L775.77,574.15 L777.18,574.15 L778.60,574.15 L780.02,574.15 L781.44,574.15 L782.85,574.15 L784.27,574.15 L785.69,574.15 L787.11,574.15 L788.52,574.15 L789.94,574.15 L791.36,574.15 L792.78,574.15 L794.19,574.15 L795.61,574.15 L797.03,574.15 L798.45,574.15 L799.86,574.15 L801.28,574.15 L802.70,574.15 L804.12,574.15 L805.53,574.15 L806.95,574.15 L808.37,574.15 L809.79,574.15 L811.20,574.15 L812.62,574.15 L814.04,574.15 L815.46,574.15 L816.87,574.15 L818.29,574.15 L819.71,574.15 L821.13,574.15 L822.54,574.15 L823.96,574.15 L825.38,574.15 L826.80,574.15 L828.21,574.15 L829.63,574.15 L831.05,574.15 L832.47,574.15 L833.88,574.15 L835.30,574.15 L836.72,574.15 L838.14,574.15 L839.55,574.15 L840.97,574.15 L842.39,574.15 L843.81,574.15 L845.22,574.15 L846.64,574.15 L848.06,574.15 L849.48,574.15 L850.90,574.15 L852.31,574.15 L853.73,574.15 L855.15,574.15 L856.57,574.15 L857.98,574.15 L859.40,574.15 L860.82,574.15 L862.24,574.15 L863.65,574.15 L865.07,574.15 L866.49,574.15 L867.91,574.15 L869.32,574.15 L870.74,574.15 L872.16,574.15 L873.58,574.15 L874.99,574.15 L876.41,574.15 L877.83,574.15 L879.25,574.15 L880.66,574.15 L882.08,574.15 L883.50,574.15 L884.92,574.15 L886.33,574.15 L887.75,574.15 L889.17,574.15 L890.59,574.15 L892.00,574.15 L893.42,574.15 L894.84,574.15 L896.26,574.15 L897.67,574.15 L899.09,574.15 L900.51,574.15 L901.93,574.15 L903.34,574.15 L904.76,574.15 L906.18,574.15 L907.60,574.15 L909.01,574.15 L910.43,574.15 L911.85,574.15 L913.27,574.15 L914.68,574.15 L916.10,574.15 L917.52,574.15 L918.94,574.15 L920.35,574.15 L921.77,574.15 L923.19,574.15 L924.61,574.15 L926.02,574.15 L927.44,574.15 L928.86,574.15 L930.28,574.15 L931.69,574.15 L933.11,574.15 L934.53,574.15 L935.95,574.15 L937.36,574.15 L938.78,574.15 L940.20,574.15 L941.62,574.15 L943.03,574.15 L944.45,574.15 L945.87,574.15 L947.29,574.15 L948.70,574.15 L950.12,574.15 L951.54,574.15 L952.96,574.15 L954.37,574.15 L955.79,574.15 L957.21,574.15 L958.63,574.15 L960.04,574.15 L961.46,574.15 L962.88,574.15 L964.30,574.15 L965.71,574.15 L967.13,574.15 L968.55,574.15" stroke="#F42C52" stroke-linecap="square"/>
<path d="M119.45,574.15 L120.87,574.15 L122.29,574.15 L123.70,574.15 L125.12,574.15 L126.54,574.15 L127.96,574.15 L129.37,574.15 L130.79,574.15 L132.21,574.15 L133.63,574.15 L135.04,574.15 L136.46,574.15 L137.88,574.15 L139.30,574.15 L140.71,574.15 L142.13,574.15 L143.55,574.15 L144.97,574.15 L146.38,574.15 L147.80,574.15 L149.22,574.15 L150.64,574.15 L152.05,574.15 L153.47,574.15 L154.89,574.15 L156.31,574.15 L157.72,574.15 L159.14,574.15 L160.56,574.15 L161.98,574.15 L163.39,574.15 L164.81,574.15 L166.23,574.15 L167.65,574.15 L169.06,574.15 L170.48,574.15 L171.90,574.15 L173.32,574.15 L174.73,574.15 L176.15,574.15 L177.57,574.15 L178.99,574.15 L180.40,574.15 L181.82,574.15 L183.24,574.15 L184.66,574.15 L186.07,574.15 L187.49,574.15 L188.91,574.15 L190.33,574.15 L191.74,574.15 L193.16,574.15 L194.58,574.15 L196.00,574.15 L197.41,574.15 L198.83,574.15 L200.25,574.15 L201.67,574.15 L203.08,574.15 L204.50,574.15 L205.92,574.15 L207.34,574.15 L208.75,574.15 L210.17,574.15 L211.59,574.15 L213.01,574.15 L214.42,574.15 L215.84,574.15 L217.26,574.15 L218.68,574.15 L220.09,574.15 L221.51,574.15 L222.93,574.15 L224.35,574.15 L225.76,574.15 L227.18,574.15 L228.60,574.15 L230.02,574.15 L231.43,574.15 L232.85,574.15 L234.27,574.15 L235.69,574.15 L237.10,574.15 L238.52,574.15 L239.94,574.15 L241.36,574.15 L242.78,574.15 L244.19,574.15 L245.61,574.15 L247.03,574.15 L248.45,574.15 L249.86,574.15 L251.28,574.15 L252.70,574.15 L254.12,574.15 L255.53,574.15 L256.95,574.15 L258.37,574.15 L259.79,574.15 L261.20,574.15 L262.62,574.15 L264.04,574.15 L265.46,574.15 L266.87,574.15 L268.29,574.15 L269.71,574.15 L271.13,574.15 L272.54,574.15 L273.96,574.15 L275.38,574.15 L276.80,574.15 L278.21,574.15 L279.63,574.15 L281.05,574.15 L282.47,574.15 L283.88,574.15 L285.30,574.15 L286.72,574.15 L288.14,574.15 L289.55,574.15 L290.97,574.15 L292.39,574.15 L293.81,574.15 L295.22,574.15 L296.64,574.15 L298.06,574.15 L299.48,574.15 L300.89,574.15 L302.31,574.15 L303.73,574.15 L305.15,574.15 L306.56,574.15 L307.98,574.15 L309.40,574.15 L310.82,574.15 L312.23,574.15 L313.65,574.15 L315.07,574.15 L316.49,574.15 L317.90,574.15 L319.32,574.15 L320.74,574.15 L322.16,574.15 L323.57,574.15 L324.99,574.15 L326.41,574.15 L327.83,574.15 L329.24,574.15 L330.66,574.15 L332.08,574.15 L333.50,574.15 L334.91,574.15 L336.33,574.15 L337.75,574.15 L339.17,574.15 L340.58,574.15 L342.00,574.15 L343.42,574.15 L344.84,574.15 L346.25,574.15 L347.67,574.15 L349.09,574.15 L350.51,574.15 L351.92,574.15 L353.34,574.15 L354.76,574.15 L356.18,574.15 L357.59,574.15 L359.01,574.15 L360.43,574.15 L361.85,574.15 L363.27,574.15 L364.68,574.15 L366.10,574.15 L367.52,574.15 L368.94,574.15 L370.35,574.15 L371.77,574.15 L373.19,574.15 L374.61,574.15 L376.02,574.15 L377.44,574.15 L378.86,574.15 L380.28,574.15 L381.69,574.15 L383.11,574.15 L384.53,574.15 L385.95,574.15 L387.36,574.15 L388.78,574.15 L390.20,574.15 L391.62,574.15 L393.03,574.15 L394.45,574.15 L395.87,574.15 L397.29,574.15 L398.70,574.15 L400.12,574.15 L401.54,574.15 L402.96,574.15 L404.37,574.15 L405.79,574.15 L407.21,574.15 L408.63,574.15 L410.04,574.15 L411.46,574.15 L412.88,574.15 L414.30,574.15 L415.71,574.15 L417.13,574.15 L418.55,574.15 L419.97,574.15 L421.38,574.15 L422.80,574.15 L424.22,574.15 L425.64,574.15 L427.05,574.15 L428.47,574.15 L429.89,574.15 L431.31,574.15 L432.72,574.15 L434.14,574.15 L435.56,574.15 L436.98,574.15 L438.39,574.15 L439.81,574.15 L441.23,574.15 L442.65,574.15 L444.06,574.15 L445.48,574.15 L446.90,574.15 L448.32,574.15 L449.73,574.15 L451.15,574.15 L452.57,574.15 L453.99,574.15 L455.40,574.15 L456.82,574.15 L458.24,574.15 L459.66,574.15 L461.07,574.15 L462.49,574.15 L463.91,574.15 L465.33,574.15 L466.74,574.15 L468.16,574.15 L469.58,574.15 L471.00,574.15 L472.41,574.15 L473.83,574.15 L475.25,574.15 L476.67,574.15 L478.08,574.15 L479.50,574.15 L480.92,574.15 L482.34,574.15 L483.76,574.15 L485.17,574.15 L486.59,574.15 L488.01,574.15 L489.43,574.15 L490.84,574.15 L492.26,574.15 L493.68,574.15 L495.10,574.15 L496.51,574.15 L497.93,574.15 L499.35,574.15 L500.77,574.15 L502.18,574.15 L503.60,574.15 L505.02,574.15 L506.44,574.15 L507.85,574.15 L509.27,574.15 L510.69,574.15 L512.11,574.15 L513.52,574.15 L514.94,574.15 L516.36,574.15 L517.78,574.15 L519.19,574.15 L520.61,574.15 L522.03,574.15 L523.45,574.15 L524.86,574.15 L526.28,574.15 L527.70,574.14 L529.12,574.14 L530.53,574.14 L531.95,574.14 L533.37,574.13 L534.79,574.12 L536.20,574.11 L537.62,574.10 L539.04,574.09 L540.46,574.06 L541.87,574.04 L543.29,574.00 L544.71,573.96 L546.13,573.90 L547.54,573.82 L548.96,573.73 L550.38,573.61 L551.80,573.46 L553.21,573.27 L554.63,573.04 L556.05,572.75 L557.47,572.39 L558.88,571.95 L560.30,571.42 L561.72,570.77 L563.14,569.98 L564.55,569.04 L565.97,567.90 L567.39,566.55 L568.81,564.95 L570.22,563.06 L571.64,560.84 L573.06,558.25 L574.48,555.23 L575.89,551.75 L577.31,547.74 L578.73,543.16 L580.15,537.94 L581.56,532.03 L582.98,525.37 L584.40,517.92 L585.82,509.61 L587.23,500.40 L588.65,490.26 L590.07,479.15 L591.49,467.04 L592.90,453.93 L594.32,439.81 L595.74,424.70 L597.16,408.63 L598.57,391.65 L599.99,373.82 L601.41,355.24 L602.83,335.98 L604.24,316.19 L605.66,296.00 L607.08,275.57 L608.50,255.05 L609.92,234.65 L611.33,214.55 L612.75,194.95 L614.17,176.06 L615.59,158.09 L617.00,141.25 L618.42,125.73 L619.84,111.71 L621.26,99.39 L622.67,88.90 L624.09,80.39 L625.51,73.96 L626.93,69.70 L628.34,67.67 L629.76,67.90 L631.18,70.38 L632.60,75.07 L634.01,81.92 L635.43,90.84 L636.85,101.71 L638.27,114.39 L639.68,128.72 L641.10,144.52 L642.52,161.60 L643.94,179.77 L645.35,198.82 L646.77,218.53 L648.19,238.71 L649.61,259.15 L651.02,279.67 L652.44,300.07 L653.86,320.19 L655.28,339.88 L656.69,359.01 L658.11,377.45 L659.53,395.12 L660.95,411.92 L662.36,427.80 L663.78,442.71 L665.20,456.63 L666.62,469.54 L668.03,481.45 L669.45,492.37 L670.87,502.32 L672.29,511.34 L673.70,519.48 L675.12,526.77 L676.54,533.27 L677.96,539.04 L679.37,544.12 L680.79,548.59 L682.21,552.49 L683.63,555.87 L685.04,558.80 L686.46,561.31 L687.88,563.46 L689.30,565.29 L690.71,566.84 L692.13,568.14 L693.55,569.24 L694.97,570.15 L696.38,570.91 L697.80,571.53 L699.22,572.05 L700.64,572.47 L702.05,572.81 L703.47,573.09 L704.89,573.31 L706.31,573.49 L707.72,573.64 L709.14,573.75 L710.56,573.84 L711.98,573.91 L713.39,573.97 L714.81,574.01 L716.23,574.04 L717.65,574.07 L719.06,574.09 L720.48,574.10 L721.90,574.12 L723.32,574.12 L724.73,574.13 L726.15,574.14 L727.57,574.14 L728.99,574.14 L730.41,574.14 L731.82,574.15 L733.24,574.15 L734.66,574.15 L736.08,574.15 L737.49,574.15 L738.91,574.15 L740.33,574.15 L741.75,574.15 L743.16,574.15 L744.58,574.15 L746.00,574.15 L747.42,574.15 L748.83,574.15 L750.25,574.15 L751.67,574.15 L753.09,574.15 L754.50,574.15 L755.92,574.15 L757.34,574.15 L758.76,574.15 L760.17,574.15 L761.59,574.15 L763.01,574.15 L764.43,574.15 L765.84,574.15 L767.26,574.15 L768.68,574.15 L770.10,574.15 L771.51,574.15 L772.93,574.15 L774.35,574.15 L775.77,574.15 L777.18,574.15 L778.60,574.15 L780.02,574.15 L781.44,574.15 L782.85,574.15 L784.27,574.15 L785.69,574.15 L787.11,574.15 L788.52,574.15 L789.94,574.15 L791.36,574.15 L792.78,574.15 L794.19,574.15 L795.61,574.15 L797.03,574.15 L798.45,574.15 L799.86,574.15 L801.28,574.15 L802.70,574.15 L804.12,574.15 L805.53,574.15 L806.95,574.15 L808.37,574.15 L809.79,574.15 L811.20,574.15 L812.62,574.15 L814.04,574.15 L815.46,574.15 L816.87,574.15 L818.29,574.15 L819.71,574.15 L821.13,574.15 L822.54,574.15 L823.96,574.15 L825.38,574.15 L826.80,574.15 L828.21,574.15 L829.63,574.15 L831.05,574.15 L832.47,574.15 L833.88,574.15 L835.30,574.15 L836.72,574.15 L838.14,574.15 L839.55,574.15 L840.97,574.15 L842.39,574.15 L843.81,574.15 L845.22,574.15 L846.64,574.15 L848.06,574.15 L849.48,574.15 L850.90,574.15 L852.31,574.15 L853.73,574.15 L855.15,574.15 L856.57,574.15 L857.98,574.15 L859.40,574.15 L860.82,574.15 L862.24,574.15 L863.65,574.15 L865.07,574.15 L866.49,574.15 L867.91,574.15 L869.32,574.15 L870.74,574.15 L872.16,574.15 L873.58,574.15 L874.99,574.15 L876.41,574.15 L877.83,574.15 L879.25,574.15 L880.66,574.15 L882.08,574.15 L883.50,574.15 L884.92,574.15 L886.33,574.15 L887.75,574.15 L889.17,574.15 L890.59,574.15 L892.00,574.15 L893.42,574.15 L894.84,574.15 L896.26,574.15 L897.67,574.15 L899.09,574.15 L900.51,574.15 L901.93,574.15 L903.34,574.15 L904.76,574.15 L906.18,574.15 L907.60,574.15 L909.01,574.15 L910.43,574.15 L911.85,574.15 L913.27,574.15 L914.68,574.15 L916.10,574.15 L917.52,574.15 L918.94,574.15 L920.35,574.15 L921.77,574.15 L923.19,574.15 L924.61,574.15 L926.02,574.15 L927.44,574.15 L928.86,574.15 L930.28,574.15 L931.69,574.15 L933.11,574.15 L934.53,574.15 L935.95,574.15 L937.36,574.15 L938.78,574.15 L940.20,574.15 L941.62,574.15 L943.03,574.15 L944.45,574.15 L945.87,574.15 L947.29,574.15 L948.70,574.15 L950.12,574.15 L951.54,574.15 L952.96,574.15 L954.37,574.15 L955.79,574.15 L957.21,574.15 L958.63,574.15 L960.04,574.15 L961.46,574.15 L962.88,574.15 L964.30,574.15 L965.71,574.15 L967.13,574.15 L968.55,574.15" stroke="#F852C4" stroke-linecap="square"/>
</g>
<g class="ticks" stroke="#262626" stroke-width="1.35" fill="none">
<path d="M119.45,599.8 v-6.6"/>
<path d="M225.59,599.8 v-6.6"/>
<path d="M331.73,599.8 v-6.6"/>
<path d="M437.86,599.8 v-6.6"/>
<path d="M544.00,599.8 v-6.6"/>
<path d="M650.14,599.8 v-6.6"/>
<path d="M756.27,599.8 v-6.6"/>
<path d="M862.41,599.8 v-6.6"/>
<path d="M968.55,599.8 v-6.6"/>
<path d="M77.0,574.15 h6.0"/>
<path d="M77.0,510.65 h6.0"/>
<path d="M77.0,447.15 h6.0"/>
<path d="M77.0,383.65 h6.0"/>
<path d="M77.0,320.15 h6.0"/>
<path d="M77.0,256.65 h6.0"/>
<path d="M77.0,193.15 h6.0"/>
<path d="M77.0,129.65 h6.0"/>
<path d="M77.0,66.15 h6.0"/>
</g>
<path class="spines" d="M76.95,42.4 V599.75 H1011.2" fill="none" stroke="#222222" stroke-width="2.0" stroke-linecap="square" stroke-linejoin="miter"/>
<rect class="legend-box" x="846.1" y="50.95" width="156.80" height="108.25" rx="3.4" fill="#ffffff" fill-opacity="0.8" stroke="#cccccc" stroke-opacity="0.8" stroke-width="2"/>
<g class="legend-handles" fill="none" stroke-width="2.5">
<path d="M852.2,64.4 H885.9" stroke="#FFAE00" stroke-dasharray="9.6 3.65"/>
<path d="M852.2,90.4 H885.9" stroke="#F3661B" stroke-dasharray="9.6 3.65"/>
<path d="M852.2,116.4 H885.9" stroke="#F42C52" stroke-linecap="square"/>
<path d="M852.2,142.3 H885.9" stroke="#F852C4" stroke-linecap="square"/>
</g>
</svg>
<div class="labels">
<h1 class="t title" style="top:9.12px;font-size:28.8px;color:#333333"><span style="left:256.14px;transform:scaleX(1.0487)">Conditioned</span> <span style="left:426.52px;transform:scaleX(1.0478)">Atomic</span> <span style="left:528.55px;transform:scaleX(1.0403)">States:</span> <span style="left:631.13px;transform:scaleX(0.9639)">Fuzzy</span> <span style="left:715.14px;transform:scaleX(1.0025)">vs</span> <span style="left:753.25px;transform:scaleX(1.0135)">Sharp</span></h1>
<div class="t xtick" style="top:602.92px;font-size:21.6px;color:#262626"><span style="left:88.85px;transform:scaleX(1.2097)">−</span><span style="left:105.50px;transform:scaleX(1.0514)">10.0</span></div>
<div class="t xtick" style="top:602.92px;font-size:21.6px;color:#262626"><span style="left:201.64px;transform:scaleX(1.2097)">−</span><span style="left:218.32px;transform:scaleX(1.0284)">7.5</span></div>
<div class="t xtick" style="top:602.92px;font-size:21.6px;color:#262626"><span style="left:307.57px;transform:scaleX(1.2097)">−</span><span style="left:324.37px;transform:scaleX(1.0365)">5.0</span></div>
<div class="t xtick" style="top:602.92px;font-size:21.6px;color:#262626"><span style="left:413.91px;transform:scaleX(1.2097)">−</span><span style="left:430.38px;transform:scaleX(1.0356)">2.5</span></div>
<div class="t xtick" style="top:602.92px;font-size:21.6px;color:#262626"><span style="left:528.34px;transform:scaleX(1.0434)">0.0</span></div>
<div class="t xtick" style="top:602.92px;font-size:21.6px;color:#262626"><span style="left:634.48px;transform:scaleX(1.0356)">2.5</span></div>
<div class="t xtick" style="top:602.92px;font-size:21.6px;color:#262626"><span style="left:740.69px;transform:scaleX(1.0365)">5.0</span></div>
<div class="t xtick" style="top:602.92px;font-size:21.6px;color:#262626"><span style="left:846.86px;transform:scaleX(1.0284)">7.5</span></div>
<div class="t xtick" style="top:602.92px;font-size:21.6px;color:#262626"><span style="left:946.04px;transform:scaleX(1.0514)">10.0</span></div>
<div class="t ytick" style="top:563.87px;font-size:21.6px;color:#262626"><span style="left:38.72px;transform:scaleX(1.0434)">0.0</span></div>
<div class="t ytick" style="top:500.37px;font-size:21.6px;color:#262626"><span style="left:39.23px;transform:scaleX(1.0334)">0.1</span></div>
<div class="t ytick" style="top:436.87px;font-size:21.6px;color:#262626"><span style="left:39.39px;transform:scaleX(1.0280)">0.2</span></div>
<div class="t ytick" style="top:373.37px;font-size:21.6px;color:#262626"><span style="left:38.97px;transform:scaleX(1.0385)">0.3</span></div>
<div class="t ytick" style="top:309.87px;font-size:21.6px;color:#262626"><span style="left:38.51px;transform:scaleX(1.0427)">0.4</span></div>
<div class="t ytick" style="top:246.37px;font-size:21.6px;color:#262626"><span style="left:39.13px;transform:scaleX(1.0311)">0.5</span></div>
<div class="t ytick" style="top:182.87px;font-size:21.6px;color:#262626"><span style="left:38.61px;transform:scaleX(1.0510)">0.6</span></div>
<div class="t ytick" style="top:119.37px;font-size:21.6px;color:#262626"><span style="left:39.08px;transform:scaleX(1.0388)">0.7</span></div>
<div class="t ytick" style="top:55.87px;font-size:21.6px;color:#262626"><span style="left:38.77px;transform:scaleX(1.0456)">0.8</span></div>
<div class="t xlabel" style="top:630.97px;font-size:21.3px;color:#262626"><span style="left:504.95px;transform:scaleX(1.0368)">Position</span></div>
<div class="t legend-label" style="top:56.94px;font-size:17.2px;color:#333333"><span style="left:898.88px;transform:scaleX(0.9697)">A_L</span> <span style="left:933.64px;transform:scaleX(1.0989)">(fuzzy)</span></div>
<div class="t legend-label" style="top:83.21px;font-size:17.2px;color:#333333"><span style="left:898.89px;transform:scaleX(0.9497)">A_R</span> <span style="left:935.95px;transform:scaleX(1.0989)">(fuzzy)</span></div>
<div class="t legend-label" style="top:109.01px;font-size:17.2px;color:#333333"><span style="left:898.88px;transform:scaleX(0.9697)">A_L</span> <span style="left:933.64px;transform:scaleX(1.0978)">(sharp)</span></div>
<div class="t legend-label" style="top:134.91px;font-size:17.2px;color:#333333"><span style="left:898.89px;transform:scaleX(0.9497)">A_R</span> <span style="left:935.95px;transform:scaleX(1.0978)">(sharp)</span></div>
<div class="t ylabel" style="left:28.4px;top:372.0px;font-size:21.3px;color:#262626;width:0;height:0"><span style="left:0;top:0;transform:rotate(-90deg) translate(-0.06px,-18.03px) scaleX(1.0702)">Amplitude</span></div>
</div>
</div>
</body>
</html>
